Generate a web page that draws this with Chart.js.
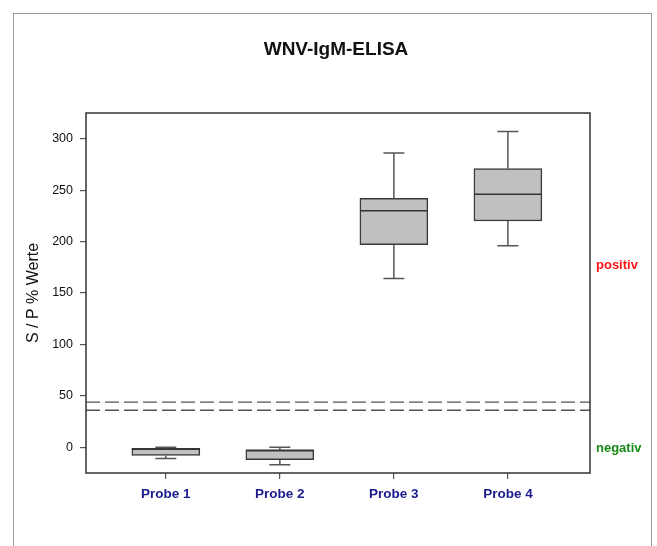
<!DOCTYPE html>
<html>
<head>
<meta charset="utf-8">
<script src="https://cdn.jsdelivr.net/npm/chart.js@4/dist/chart.umd.min.js"></script>
<style>
  html, body { margin: 0; padding: 0; background: #fff; }
</style>
</head>
<body>
<canvas id="myChart" width="657" height="546"></canvas>
<script>
// box plot values
let labels  = ['Probe 1', 'Probe 2', 'Probe 3', 'Probe 4'];
let mins    = [-11, -17, 164, 196];
let q1s     = [-8, -12, 197, 220];
let medians = [-2, -3, 230, 246];
let q3s     = [-1, -3, 242, 271];
let maxs    = [0, 0, 286, 307];
let cutoffs = [44, 36];
let yTicks  = [0, 50, 100, 150, 200, 250, 300];
let zoneLabels = ['positiv', 'negativ'];
let zoneValues = [177, -1];
let zoneColors = ['#ff1414', '#168a16'];

let FONT = "'Liberation Sans', Arial, sans-serif";
let capHalf = 0.092, boxHalf = 0.298;

// whisker + cap segments, broken by nulls
let whiskers = [];
let meds = [];
labels.forEach((l, i) => {
  let c = i + 1;
  whiskers.push({x: c, y: q3s[i]}, {x: c, y: maxs[i]}, {x: c, y: null});
  whiskers.push({x: c - capHalf, y: maxs[i]}, {x: c + capHalf, y: maxs[i]}, {x: c, y: null});
  whiskers.push({x: c, y: q1s[i]}, {x: c, y: mins[i]}, {x: c, y: null});
  whiskers.push({x: c - capHalf, y: mins[i]}, {x: c + capHalf, y: mins[i]}, {x: c, y: null});
  meds.push({x: c - boxHalf, y: medians[i]}, {x: c + boxHalf, y: medians[i]}, {x: c, y: null});
});

let lineDs = (data, extra) => Object.assign({
  type: 'line', data: data, borderColor: '#444', borderWidth: 1.5,
  pointRadius: 0, spanGaps: false, fill: false, order: 0
}, extra || {});

let datasets = [
  lineDs(meds, {borderColor: '#333'}),
  lineDs(whiskers, {borderColor: '#555'}),
];
cutoffs.forEach(v => {
  datasets.push(lineDs([{x: 0.3, y: v}, {x: 4.72, y: v}],
    {borderColor: '#555', borderWidth: 1.3, borderDash: [14, 5]}));
});
datasets.push({
  type: 'bar',
  data: labels.map((l, i) => ({x: i + 1, y: [q1s[i], q3s[i]]})),
  backgroundColor: '#c0c0c0',
  borderColor: '#3a3a3a',
  borderWidth: 1.5,
  borderSkipped: false,
  barThickness: 68,
  order: 1
});

const framePlugin = {
  id: 'framePlugin',
  beforeDraw(chart) {
    let c = chart.ctx;
    c.save();
    c.fillStyle = '#fff';
    c.fillRect(0, 0, chart.width, chart.height);
    c.strokeStyle = '#9a9a9a';
    c.lineWidth = 1;
    c.strokeRect(13.5, 13.5, 638, 600);
    c.restore();
  },
  afterDraw(chart) {
    let c = chart.ctx, a = chart.chartArea, y = chart.scales.y;
    c.save();
    c.strokeStyle = '#333';
    c.lineWidth = 1.5;
    c.strokeRect(a.left, a.top, a.right - a.left, a.bottom - a.top);
    c.font = 'bold 13px ' + FONT;
    c.textAlign = 'left';
    c.textBaseline = 'middle';
    zoneLabels.forEach((t, i) => {
      c.fillStyle = zoneColors[i];
      c.fillText(t, a.right + 6, y.getPixelForValue(zoneValues[i]));
    });
    c.restore();
  }
};

let ctx = document.getElementById('myChart');
document.myChart = new Chart(ctx, {
  type: 'bar',
  data: { datasets: datasets },
  plugins: [framePlugin],
  options: {
    responsive: false,
    animation: false,
    layout: { padding: { left: 15, right: 0, top: 0, bottom: 0 } },
    scales: {
      x: {
        type: 'linear',
        min: 0.3, max: 4.72,
        offset: false,
        afterBuildTicks: s => { s.ticks = labels.map((l, i) => ({value: i + 1})); },
        afterFit: s => { s.height = 73; },
        grid: { offset: false, drawOnChartArea: false, drawTicks: true, tickLength: 6, color: '#555', lineWidth: 1.2 },
        border: { display: false },
        ticks: {
          padding: 7,
          color: '#1a1a8c',
          font: { family: FONT, size: 13.5, weight: 'bold' },
          callback: v => labels[v - 1]
        }
      },
      y: {
        min: -25, max: 325,
        afterBuildTicks: s => { s.ticks = yTicks.map(v => ({value: v})); },
        afterFit: s => { s.width = 71; },
        grid: { drawOnChartArea: false, drawTicks: true, tickLength: 6, color: '#555', lineWidth: 1.2 },
        border: { display: false },
        ticks: { padding: 7, color: '#111', font: { family: FONT, size: 12.5 } },
        title: {
          display: true, text: 'S / P % Werte', color: '#111',
          font: { family: FONT, size: 16 }, padding: { top: 9, bottom: 0 }
        }
      },
      yR: {
        position: 'right',
        display: true,
        afterFit: s => { s.width = 67; },
        grid: { display: false },
        border: { display: false },
        ticks: { display: false }
      }
    },
    plugins: {
      legend: { display: false },
      tooltip: { enabled: false },
      title: {
        display: true,
        text: 'WNV-IgM-ELISA',
        color: '#111',
        font: { family: FONT, size: 19, weight: 'bold' },
        padding: { top: 38.6, bottom: 51.6 }
      }
    }
  }
});
</script>
</body>
</html>
